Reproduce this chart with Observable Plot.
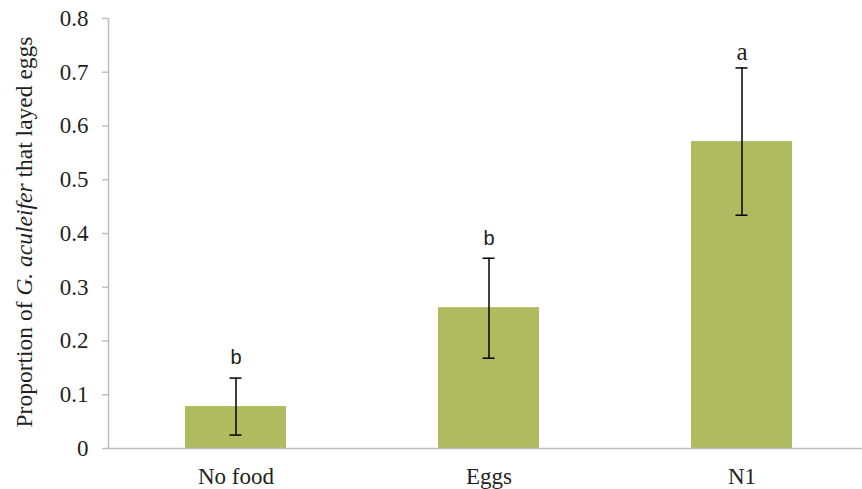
<!DOCTYPE html>
<html>
<head>
<meta charset="utf-8">
<script src="https://cdn.jsdelivr.net/npm/d3@7"></script>
<script src="https://cdn.jsdelivr.net/npm/@observablehq/plot@0.6"></script>
<style>
html, body { margin: 0; padding: 0; background: #fff; }
#chart svg { display: block; }
</style>
</head>
<body>
<div id="chart"></div>
<script>
const categories = ["No food", "Eggs", "N1"];
const proportions = [0.078, 0.262, 0.571];
const errLower = [0.025, 0.168, 0.434];
const errUpper = [0.131, 0.354, 0.708];
const letters = ["b", "b", "a"];
const yTicks = [0, 0.1, 0.2, 0.3, 0.4, 0.5, 0.6, 0.7, 0.8];

const data = categories.map((c, i) => ({
  cat: c, value: proportions[i], lo: errLower[i], hi: errUpper[i], letter: letters[i]
}));

const barColor = "#afbb5e";
const axisColor = "#bfbfbf";
const textColor = "#231f20";
const serif = "'Liberation Serif', 'DejaVu Serif', serif";
const sans = "'Liberation Sans', 'DejaVu Sans', sans-serif";

const plot = Plot.plot({
  width: 862,
  height: 489,
  marginLeft: 108,
  marginRight: -7,
  marginTop: 18,
  marginBottom: 41,
  style: `font-family: ${serif}; font-size: 23px; color: ${textColor}; background: #fff; overflow: hidden;`,
  x: { domain: categories, paddingInner: 0.6, paddingOuter: 0.3, label: null },
  y: { domain: [0, 0.8], label: null },
  marks: [
    Plot.axisY({ ticks: yTicks, tickFormat: d => d === 0 ? "0" : d3.format(".1f")(d), tickSize: 6, tickPadding: 14, stroke: axisColor, strokeWidth: 1.5, fill: textColor, fontSize: 23, fontFamily: serif, label: null }),
    Plot.axisX({ tickSize: 0, tickPadding: 19, fill: textColor, fontSize: 23, fontFamily: serif, label: null }),
    Plot.barY(data, { x: "cat", y: "value", fill: barColor }),
    Plot.ruleY([0], { stroke: axisColor, strokeWidth: 1.5 }),
    Plot.frame({ anchor: "left", stroke: axisColor, strokeWidth: 1.5 }),
    Plot.ruleX(data, { x: "cat", y1: "lo", y2: "hi", stroke: "#000", strokeWidth: 1.5 }),
    Plot.tickY(data, { x: "cat", y: "lo", stroke: "#000", strokeWidth: 1.5, insetLeft: 44.5, insetRight: 44.5 }),
    Plot.tickY(data, { x: "cat", y: "hi", stroke: "#000", strokeWidth: 1.5, insetLeft: 44.5, insetRight: 44.5 }),
    Plot.text(data.filter(d => d.letter === "b"), { x: "cat", y: "hi", text: "letter", dy: -20, fontSize: 20, fill: textColor, fontFamily: sans }),
    Plot.text(data.filter(d => d.letter === "a"), { x: "cat", y: "hi", text: "letter", dy: -16, fontSize: 25, fill: textColor, fontFamily: serif })
  ]
});

document.getElementById("chart").appendChild(plot);

// Y-axis title with partial italics
const svg = d3.select(plot);
const t = svg.append("text")
  .attr("transform", "translate(32,232) rotate(-90)")
  .attr("text-anchor", "middle")
  .attr("font-family", serif)
  .attr("font-size", 23.5)
  .attr("fill", textColor);
t.append("tspan").text("Proportion of ");
t.append("tspan").attr("font-style", "italic").text("G. aculeifer");
t.append("tspan").text(" that layed eggs");
</script>
</body>
</html>
